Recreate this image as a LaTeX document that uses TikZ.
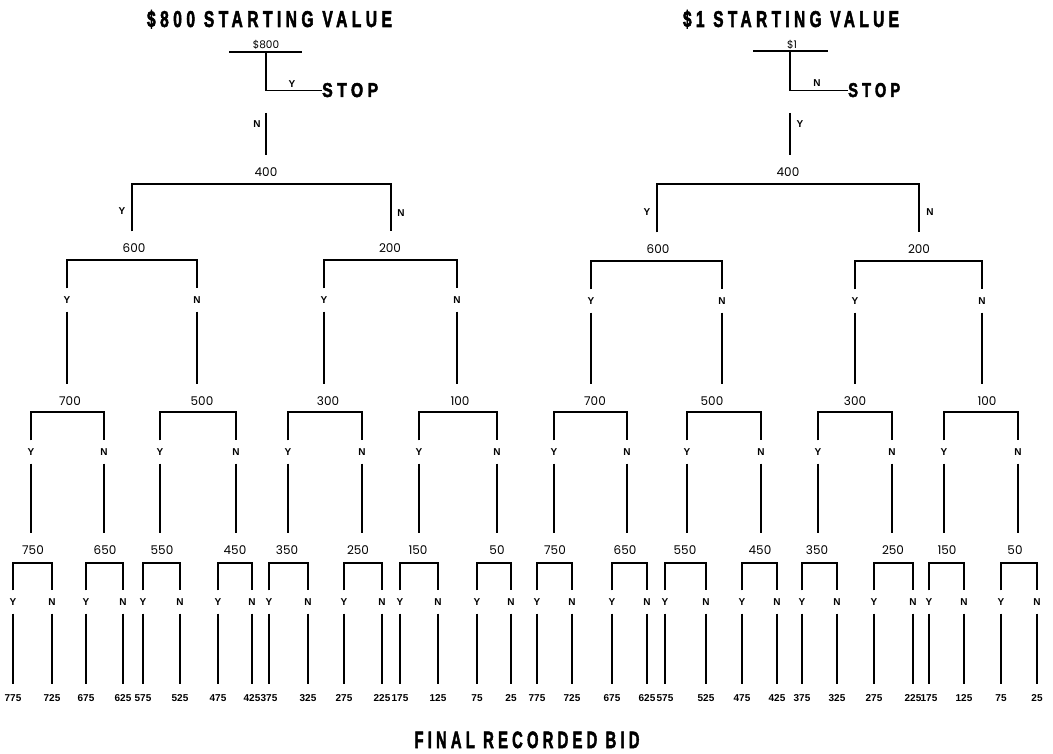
\documentclass[tikz,border=0pt]{standalone}
\usepackage{fontspec}
\usepackage{graphicx}
\setmainfont{Liberation Sans}
\newfontfamily\popfont{Poppins}
\newfontfamily\ttlfont[LetterSpace=28,FakeBold=2.5]{Liberation Sans}
\tikzset{
  num/.style={font=\popfont\fontsize{12}{13}\selectfont, inner xsep=1pt, inner ysep=12pt},
  start/.style={font=\popfont\fontsize{10.5}{11}\selectfont, inner sep=1pt},
  yn/.style={font=\bfseries\fontsize{10}{11}\selectfont, inner xsep=1pt, inner ysep=8pt},
  side/.style={font=\bfseries\fontsize{10}{11}\selectfont, inner sep=1pt},
  leaf/.style={font=\bfseries\fontsize{10}{11}\selectfont, inner xsep=0pt, inner ysep=10.5pt},
  ln/.style={line width=1.1pt},
  ttl/.style={inner sep=0pt, anchor=base},
  stopbox/.style={inner sep=0pt, anchor=base west},
}
\newcommand\yesno[7]{%
  \coordinate (#1-L) at (#3,#2);
  \coordinate (#1-R) at (#4,#2);
  \node[yn] (#1-y) at (#3,#5) {Y};
  \node[yn] (#1-n) at (#4,#5) {N};
  \draw[ln] (#1-y) -- (#1-L) -- (#1-R) -- (#1-n);
  \draw[ln] (#1-y) -- (#1-y |- #6.north);
  \draw[ln] (#1-n) -- (#1-n |- #7.north);
}
\begin{document}
\begin{tikzpicture}[x=1pt,y=-1pt]
\fill[white] (0,0) rectangle (1053,754);
\useasboundingbox (0,0) rectangle (1053,754);

% ---------- titles ----------
\node[ttl] (Atitle) at (269.5,27) {\resizebox{245pt}{17pt}{\ttlfont\bfseries \$800 STARTING VALUE}};
\node[ttl] (Btitle) at (791,27) {\resizebox{216pt}{17pt}{\ttlfont\bfseries \$1 STARTING VALUE}};
\node[ttl] (Ctitle) at (527,748) {\resizebox{225pt}{16.5pt}{\ttlfont\bfseries FINAL RECORDED BID}};

% ================= LEFT TREE =================
\foreach \n/\x/\y in {400/266/172, 600/134/248, 200/390/248,
  700/70/401, 500/202/401, 300/328/401, 100/460/401,
  750/33/550, 650/105/550, 550/162/550, 450/235/550,
  350/287/550, 250/358/550, 150/418/550, 50/497/550}
  \node[num] (A\n) at (\x,\y) {\n};
\foreach \n/\x in {775/13, 725/52, 675/86, 625/123, 575/143, 525/180,
  475/218, 425/252, 375/269, 325/308, 275/344, 225/382, 175/400,
  125/438, 75/477, 25/511}
  \node[leaf] (A\n) at (\x,698) {\n};

% top
\node[start] (Astart) at (266,45) {\$800};
\coordinate (Atop-L) at (229,52);
\coordinate (Atop-R) at (302,52);
\draw[ln] (Atop-L) -- (Atop-R);
\node[stopbox] (Astop) at (322,97) {\resizebox{56pt}{14pt}{\ttlfont\bfseries STOP}};
\draw[ln] (Astart.center |- Atop-L) |- (Astop.west);
\node[side] (Atop-y) at (292,84) {Y};
\coordinate (Atop-nstart) at (266,113);
\draw[ln] (Atop-nstart) -- (Atop-nstart |- A400.north);
\node[side] (Atop-n) at (257,124) {N};

% level 1
\coordinate (A400-L) at (132,184);
\coordinate (A400-R) at (391,184);
\draw[ln] (A400-L |- A600.north) -- (A400-L) -- (A400-R) -- (A400-R |- A200.north);
\node[side] (A400-y) at (122,211) {Y};
\node[side] (A400-n) at (401,213) {N};

% level 2
\foreach \p/\l/\r/\c/\d in {600/67/197/700/500, 200/324/457/300/100}
  \yesno{A\p}{260}{\l}{\r}{300}{A\c}{A\d};
% level 3
\foreach \p/\l/\r/\c/\d in {700/31/104/750/650, 500/160/236/550/450,
  300/288/362/350/250, 100/419/497/150/50}
  \yesno{A\p}{412}{\l}{\r}{452}{A\c}{A\d};
% level 4
\foreach \p/\l/\r/\c/\d in {750/13/52/775/725, 650/86/123/675/625,
  550/143/180/575/525, 450/218/252/475/425, 350/269/308/375/325,
  250/344/382/275/225, 150/400/438/175/125, 50/477/511/75/25}
  \yesno{A\p}{563}{\l}{\r}{602}{A\c}{A\d};

% ================= RIGHT TREE =================
\foreach \n/\x/\y in {400/788/172, 600/658/249, 200/919/249,
  700/595/401, 500/712/401, 300/855/401, 100/987/401,
  750/555/550, 650/625/550, 550/685/550, 450/760/550,
  350/817/550, 250/893/550, 150/947/550, 50/1015/550}
  \node[num] (B\n) at (\x,\y) {\n};
\foreach \n/\x in {775/537, 725/572, 675/612, 625/647, 575/665, 525/706,
  475/742, 425/777, 375/802, 325/837, 275/874, 225/913, 175/929,
  125/964, 75/1001, 25/1037}
  \node[leaf] (B\n) at (\x,698) {\n};

% top
\node[start] (Bstart) at (792,45) {\$1};
\coordinate (Btop-L) at (753,51);
\coordinate (Btop-R) at (828,51);
\coordinate (Btop-c) at (790,51);
\draw[ln] (Btop-L) -- (Btop-R);
\node[stopbox] (Bstop) at (848,97) {\resizebox{52pt}{14pt}{\ttlfont\bfseries STOP}};
\draw[ln] (Btop-c) |- (Bstop.west);
\node[side] (Btop-n) at (817,83) {N};
\coordinate (Btop-ystart) at (790,113);
\draw[ln] (Btop-ystart) -- (Btop-ystart |- B400.north);
\node[side] (Btop-y) at (800,124) {Y};

% level 1
\coordinate (B400-L) at (657,184);
\coordinate (B400-R) at (919,184);
\draw[ln] (B400-L |- B600.north) -- (B400-L) -- (B400-R) -- (B400-R |- B200.north);
\node[side] (B400-y) at (647,212) {Y};
\node[side] (B400-n) at (930,212) {N};

% level 2
\foreach \p/\l/\r/\c/\d in {600/591/722/700/500, 200/855/982/300/100}
  \yesno{B\p}{261}{\l}{\r}{301}{B\c}{B\d};
% level 3
\foreach \p/\l/\r/\c/\d in {700/554/627/750/650, 500/687/761/550/450,
  300/818/892/350/250, 100/944/1018/150/50}
  \yesno{B\p}{412}{\l}{\r}{452}{B\c}{B\d};
% level 4
\foreach \p/\l/\r/\c/\d in {750/537/572/775/725, 650/612/647/675/625,
  550/665/706/575/525, 450/742/777/475/425, 350/802/837/375/325,
  250/874/913/275/225, 150/929/964/175/125, 50/1001/1037/75/25}
  \yesno{B\p}{563}{\l}{\r}{602}{B\c}{B\d};
\end{tikzpicture}
\end{document}
